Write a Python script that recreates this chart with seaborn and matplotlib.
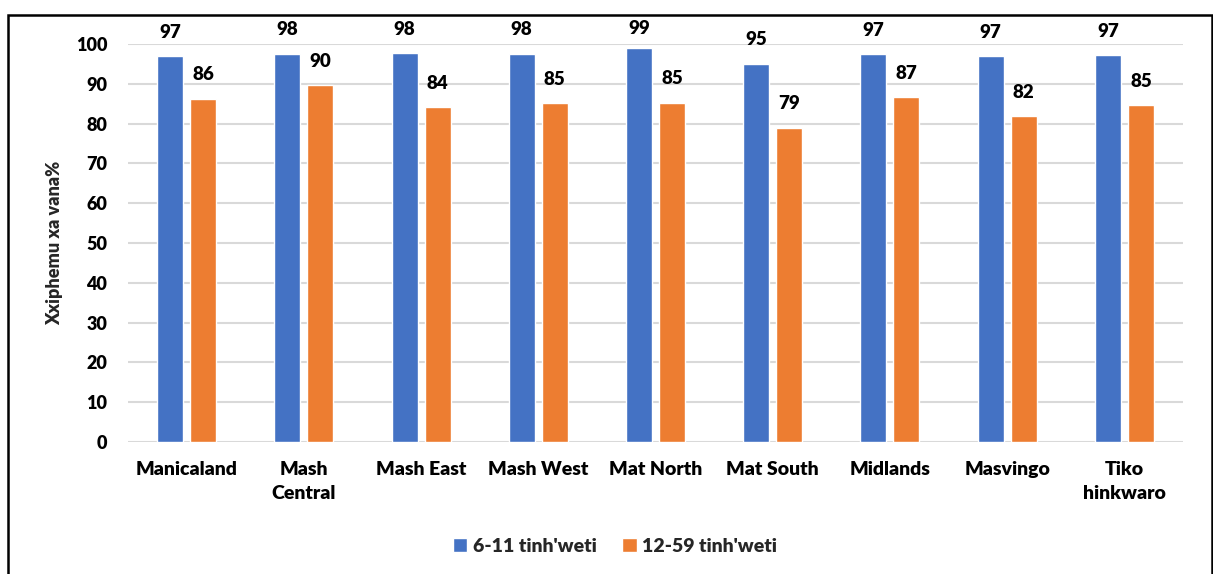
import matplotlib
matplotlib.use("Agg")
import matplotlib.pyplot as plt
import seaborn as sns
import pandas as pd
from matplotlib.patches import Rectangle

categories = ["Manicaland", "Mash\nCentral", "Mash East", "Mash West", "Mat North",
              "Mat South", "Midlands", "Masvingo", "Tiko\nhinkwaro"]
series_names = ["6-11 tinh'weti", "12-59 tinh'weti"]
values_6_11 = [97.0, 97.6, 97.7, 97.6, 99.0, 95.1, 97.4, 97.0, 97.2]
values_12_59 = [86.3, 89.6, 84.2, 85.2, 85.3, 79.0, 86.6, 81.9, 84.7]
yticks = [0, 10, 20, 30, 40, 50, 60, 70, 80, 90, 100]
ylabel = "Xxiphemu xa vana%"
colors = ["#4472C4", "#ED7D31"]

df = pd.DataFrame({
    "cat": categories * 2,
    "series": [series_names[0]] * len(categories) + [series_names[1]] * len(categories),
    "val": values_6_11 + values_12_59,
})

sns.set_theme(style="white")
plt.rcParams['font.family'] = ['Lato', 'DejaVu Sans']
W = 'heavy'

fig = plt.figure(figsize=(12.13, 5.74), dpi=100)
ax = fig.add_axes([128/1213, 1-442/574, (1183-128)/1213, (442-44)/574])

sns.barplot(data=df, x="cat", y="val", hue="series", palette=colors, ax=ax,
            width=0.564, gap=0.213, saturation=1, errorbar=None, legend=True,
            zorder=3)

ax.set_ylim(0, 100)
ax.set_xlim(-0.5, len(categories) - 0.5)
ax.set_yticks(yticks)
ax.set_yticklabels([str(t) for t in yticks], fontsize=13, fontweight=W)
ax.set_xticks(range(len(categories)))
ax.set_xticklabels(categories, fontsize=14, fontweight=W, linespacing=1.45)
ax.tick_params(axis='both', length=0, colors='black')
ax.tick_params(axis='y', pad=15)
ax.tick_params(axis='x', pad=14)
ax.set_xlabel("")
ax.set_ylabel(ylabel, fontsize=13, fontweight=W, labelpad=9)
ax.yaxis.grid(True, color="#D9D9D9", linewidth=1.5, zorder=0)
ax.set_axisbelow(True)
for s in ax.spines.values():
    s.set_visible(False)

for cont in ax.containers:
    for p in cont:
        h = p.get_height()
        ax.text(p.get_x() + p.get_width() / 2, min(h + 6, 103.8), f"{h:.0f}",
                ha='center', va='center', fontsize=13.5, fontweight=W,
                clip_on=False, color='black')

leg = ax.legend(loc='center', bbox_to_anchor=(615/1213, 1-546/574),
                bbox_transform=fig.transFigure, ncol=2, frameon=False,
                prop={'size': 14, 'weight': W}, handlelength=0.75, handleheight=0.75,
                handletextpad=0.3, columnspacing=1.3)

fig.patches.append(Rectangle((8/1213, -0.01), (1212-8)/1213, 1-15/574 + 0.01,
                             transform=fig.transFigure, fill=False,
                             edgecolor='black', linewidth=1.8, zorder=10))

fig.savefig("out.png", dpi=100)
